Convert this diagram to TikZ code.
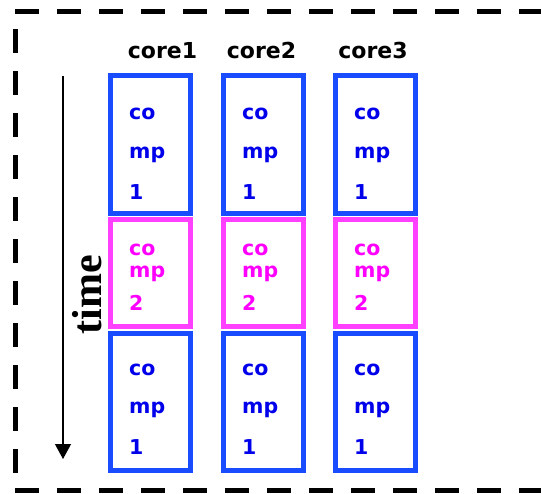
\documentclass[tikz,border=0pt]{standalone}
\usepackage{fontspec}
\setmainfont{DejaVu Sans}
\newfontfamily\timefont{Liberation Serif}
\usetikzlibrary{arrows.meta}
\definecolor{boxblue}{RGB}{25,75,255}
\definecolor{txtblue}{RGB}{0,0,235}
\definecolor{boxpink}{RGB}{255,64,255}
\definecolor{txtpink}{RGB}{255,0,255}
\tikzset{
  frameline/.style={line width=5pt, dash pattern=on 24pt off 18pt, line cap=butt},
  slot/.style={rectangle, draw, line width=5pt, minimum width=80pt, inner sep=0pt},
  blueslot/.style={slot, draw=boxblue},
  pinkslot/.style={slot, draw=boxpink},
  slottext/.style={anchor=base west, inner sep=0pt, font=\fontsize{20.5}{20.5}\selectfont\bfseries},
  bluetext/.style={slottext, text=txtblue},
  pinktext/.style={slottext, text=txtpink},
  corelabel/.style={anchor=base, inner sep=0pt, font=\fontsize{22}{22}\selectfont\bfseries},
}
\begin{document}
\begin{tikzpicture}[x=1pt, y=-1pt]
\useasboundingbox (0,0) rectangle (541,493);
\clip (0,0) rectangle (541,493);
% dashed frame
\coordinate (ftl) at (15,11.5);
\coordinate (ftr) at (560,11.5);
\coordinate (fbl) at (15,490.5);
\coordinate (fbr) at (560,490.5);
\coordinate (fl1) at (15,29);
\coordinate (fl2) at (15,485);
\coordinate (fr1) at (543,29);
\coordinate (fr2) at (543,485);
\draw[frameline] (ftl) -- (ftr);
\draw[frameline] (fbl) -- (fbr);
\draw[frameline] (fl1) -- (fl2);
\draw[frameline] (fr1) -- (fr2);
% time arrow
\coordinate (tstart) at (63,76);
\coordinate (tend) at (63,459);
\draw[line width=1.2pt, -{Triangle[length=15pt,width=16pt]}] (tstart) -- (tend);
\node[rotate=90, anchor=base, inner sep=0pt, font=\timefont\fontsize{42}{42}\selectfont\bfseries] (time) at (101,295) {time};
% core labels
\node[corelabel] (c1) at (162.5,58) {core1};
\node[corelabel] (c2) at (261.5,58) {core2};
\node[corelabel] (c3) at (373,58) {core3};
% boxes
\foreach \i/\cx in {1/150.5, 2/263.5, 3/375.5}{
  \node[blueslot, minimum height=138pt] (a\i) at (\cx,144.5) {};
  \node[pinkslot, minimum height=107pt] (p\i) at (\cx,273) {};
  \node[blueslot, minimum height=137pt] (b\i) at (\cx,402) {};
  \node[bluetext] (a\i t1) at (\cx-21.5,119) {co};
  \node[bluetext] (a\i t2) at (\cx-21.5,158) {mp};
  \node[bluetext] (a\i t3) at (\cx-21.5,199) {1};
  \node[pinktext] (p\i t1) at (\cx-21.5,255) {co};
  \node[pinktext] (p\i t2) at (\cx-21.5,277) {mp};
  \node[pinktext] (p\i t3) at (\cx-21.5,310) {2};
  \node[bluetext] (b\i t1) at (\cx-21.5,375) {co};
  \node[bluetext] (b\i t2) at (\cx-21.5,413) {mp};
  \node[bluetext] (b\i t3) at (\cx-21.5,454) {1};
}
\end{tikzpicture}
\end{document}
